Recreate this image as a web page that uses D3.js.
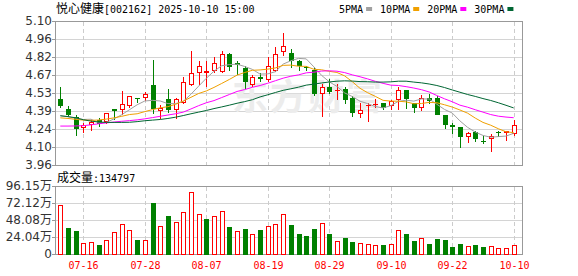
<!DOCTYPE html>
<html lang="zh">
<head>
<meta charset="UTF-8">
<title>悦心健康 日K</title>
<script src="https://cdn.jsdelivr.net/npm/d3@7"></script>
<style>
  body { margin: 0; background: #fff; }
  svg { display: block; }
  .mono { font-family: "DejaVu Sans Mono", monospace; font-size: 10px; }
  .cjk { font-family: "Noto Sans CJK SC", sans-serif; font-size: 12px; }
  .axis text { font-family: "DejaVu Sans", "Noto Sans CJK SC", sans-serif; font-size: 12px; fill: #333; }
  .axis line { stroke: #999; }
  .axis path { display: none; }
</style>
</head>
<body>
<svg id="chart" width="578" height="276"></svg>
<script>
// trading days shown
const dates = ["07-11","07-14","07-15","07-16","07-17","07-18","07-21","07-22","07-23","07-24",
  "07-25","07-28","07-29","07-30","07-31","08-01","08-04","08-05","08-06","08-07",
  "08-08","08-11","08-12","08-13","08-14","08-15","08-18","08-19","08-20","08-21",
  "08-22","08-25","08-26","08-27","08-28","08-29","09-01","09-02","09-03","09-04",
  "09-05","09-08","09-09","09-10","09-11","09-12","09-15","09-16","09-17","09-18",
  "09-19","09-22","09-23","09-24","09-25","09-26","09-29","09-30","10-09","10-10"];

const open = [4.49,4.41,4.35,4.26,4.28,4.32,4.31,4.41,4.40,4.43, 4.50,4.50,4.60,4.39,4.49,4.40,4.46,4.60,4.69,4.69,
  4.71,4.70,4.84,4.77,4.73,4.60,4.66,4.64,4.71,4.86, 4.85,4.79,4.74,4.72,4.53,4.58,4.55,4.57,4.50,4.37,
  4.43,4.44,4.46,4.43,4.48,4.56,4.46,4.42,4.50,4.50, 4.36,4.28,4.27,4.19,4.23,4.16,4.17,4.23,4.22,4.21];
const high = [4.58,4.43,4.36,4.30,4.32,4.34,4.38,4.41,4.55,4.51, 4.50,4.54,4.80,4.44,4.57,4.50,4.66,4.87,4.79,4.79,
  4.82,4.87,4.85,4.79,4.75,4.68,4.69,4.82,4.90,5.01, 4.88,4.80,4.75,4.74,4.61,4.65,4.61,4.58,4.51,4.46,
  4.46,4.49,4.46,4.48,4.58,4.56,4.46,4.52,4.53,4.51, 4.36,4.30,4.27,4.23,4.24,4.20,4.21,4.24,4.24,4.32];
const low = [4.42,4.35,4.20,4.22,4.24,4.27,4.29,4.32,4.36,4.42, 4.46,4.47,4.37,4.33,4.38,4.33,4.45,4.59,4.60,4.58,
  4.69,4.69,4.71,4.68,4.57,4.58,4.62,4.62,4.70,4.83, 4.73,4.71,4.71,4.51,4.35,4.53,4.48,4.45,4.35,4.34,
  4.31,4.42,4.40,4.40,4.40,4.41,4.38,4.39,4.45,4.36, 4.25,4.21,4.10,4.14,4.15,4.13,4.07,4.19,4.16,4.20];
const close = [4.43,4.36,4.25,4.28,4.31,4.29,4.38,4.39,4.45,4.51, 4.49,4.53,4.41,4.42,4.40,4.49,4.62,4.69,4.75,4.71,
  4.77,4.84,4.74,4.76,4.62,4.66,4.65,4.75,4.84,4.91, 4.79,4.75,4.73,4.53,4.58,4.54,4.56,4.48,4.38,4.40,
  4.44,4.45,4.42,4.47,4.56,4.49,4.42,4.50,4.47,4.36, 4.28,4.27,4.19,4.22,4.17,4.15,4.20,4.22,4.24,4.28];
const prevClose = 4.40; // close before 07-11

// volume, 万手
const volume = [71.3,38.5,33.8,16.9,18.3,14.1,20.6,31.9,43.2,34.7, 21.1,20.6,73.2,40.4,54.9,46.0,60.1,89.6,57.3,50.7,
  54.9,61.9,39.9,33.8,36.6,29.6,35.2,40.8,43.6,57.3, 42.2,29.6,26.8,36.6,44.6,29.6,19.7,24.4,18.3,16.4,
  15.0,14.1,14.1,15.5,35.2,29.6,19.7,23.9,15.5,22.5, 21.1,11.3,15.5,12.7,14.1,11.3,12.7,9.9,9.9,13.4797];

const ma5 = [4.358,4.348,4.337,4.327,4.329,4.301,4.304,4.332,4.365,4.404, 4.443,4.473,4.478,4.473,4.452,4.452,4.470,4.526,4.590,4.652,
  4.708,4.751,4.760,4.763,4.745,4.722,4.685,4.687,4.704,4.764, 4.790,4.809,4.805,4.742,4.675,4.624,4.588,4.537,4.508,4.471,
  4.452,4.429,4.418,4.436,4.470,4.479,4.472,4.489,4.489,4.447, 4.406,4.378,4.316,4.265,4.228,4.201,4.187,4.192,4.196,4.218];
const ma10 = [4.340,4.335,4.328,4.322,4.320,4.323,4.330,4.340,4.352,4.366, 4.372,4.389,4.405,4.419,4.428,4.447,4.472,4.502,4.532,4.552,
  4.580,4.611,4.643,4.677,4.698,4.715,4.718,4.724,4.734,4.754, 4.756,4.747,4.746,4.723,4.719,4.707,4.698,4.671,4.625,4.573,
  4.538,4.509,4.478,4.472,4.471,4.466,4.451,4.453,4.462,4.459, 4.443,4.425,4.402,4.377,4.338,4.304,4.282,4.254,4.230,4.223];
const ma20 = [4.275,4.275,4.276,4.278,4.285,4.293,4.300,4.307,4.313,4.318, 4.324,4.332,4.342,4.352,4.362,4.372,4.385,4.410,4.436,4.459,
  4.476,4.500,4.524,4.548,4.563,4.581,4.595,4.613,4.633,4.653, 4.668,4.679,4.695,4.700,4.709,4.711,4.708,4.697,4.679,4.664,
  4.647,4.628,4.612,4.598,4.595,4.586,4.575,4.562,4.544,4.516, 4.490,4.467,4.440,4.424,4.404,4.385,4.366,4.353,4.346,4.341];
const ma30 = [4.356,4.350,4.340,4.325,4.314,4.307,4.304,4.304,4.304,4.305, 4.310,4.317,4.322,4.327,4.335,4.345,4.358,4.372,4.385,4.398,
  4.413,4.426,4.440,4.455,4.468,4.483,4.505,4.522,4.540,4.557, 4.569,4.582,4.598,4.606,4.615,4.623,4.629,4.632,4.630,4.626,
  4.625,4.622,4.622,4.624,4.629,4.629,4.622,4.616,4.607,4.595, 4.579,4.560,4.542,4.524,4.509,4.492,4.477,4.459,4.439,4.418];

const priceTickLabels = ["3.96","4.10","4.24","4.39","4.53","4.67","4.82","4.96","5.10"];
const volTickLabels = ["0","24.04万","48.08万","72.12万","96.15万"];
const xTickLabels = ["07-16","07-28","08-07","08-19","08-29","09-10","09-22","10-10"];

const maNames = ["5PMA","10PMA","20PMA","30PMA"];
const maColors = ["#a0a0a0","#f0a000","#ff00ff","#006633"];

const RED = "#ff0000", GREEN = "#008000";
const left = 55, right = 522;

const svg = d3.select("#chart");
svg.append("rect").attr("width", 578).attr("height", 276).attr("fill", "#fff");

const x = d3.scalePoint().domain(dates).range([60.3, 513.7]);
const priceY = d3.scaleLinear().domain([3.96, 5.10]).range([166, 21.5]);
const volY = d3.scaleLinear().domain([0, 96.15]).range([255, 187]);

const priceTicks = priceTickLabels.map((_, k) => 3.96 + k * (5.10 - 3.96) / 8);
const volTicks = volTickLabels.map((_, k) => k * 96.15 / 4);
const px = d => Math.round(x(d));

// grids
function hGrid(scale, ticks) {
  svg.append("g").selectAll("line").data(ticks).join("line")
    .attr("x1", left).attr("x2", right)
    .attr("y1", d => Math.round(scale(d)) - 0.5)
    .attr("y2", d => Math.round(scale(d)) - 0.5)
    .attr("stroke", "#d4d4d4");
}
hGrid(priceY, priceTicks);
hGrid(volY, volTicks);

function vGrid(y1, y2) {
  svg.append("g").selectAll("line").data(xTickLabels).join("line")
    .attr("x1", d => px(d) + 0.5).attr("x2", d => px(d) + 0.5)
    .attr("y1", y1).attr("y2", y2)
    .attr("stroke", "#cccccc").attr("stroke-dasharray", "4,3");
}
vGrid(22, 165);
vGrid(187, 254);

// watermark
svg.append("text")
  .attr("x", 232).attr("y", 110)
  .attr("font-family", "Noto Sans CJK SC").attr("font-size", 36).attr("font-weight", 700)
  .attr("letter-spacing", 2)
  .attr("fill", "#ececec")
  .text("东方财富");

// panel borders
svg.append("rect").attr("x", left + 0.5).attr("y", 21.5).attr("width", right - left).attr("height", 144)
  .attr("fill", "none").attr("stroke", "#999");
svg.append("rect").attr("x", left + 0.5).attr("y", 186.5).attr("width", right - left).attr("height", 68)
  .attr("fill", "none").attr("stroke", "#999");

// axes
svg.append("g").attr("class", "axis").attr("transform", `translate(${left},0)`)
  .call(d3.axisLeft(priceY).tickValues(priceTicks).tickFormat((d, i) => priceTickLabels[i]).tickSize(3).tickPadding(0))
  .call(g => g.selectAll(".tick").attr("transform", d => `translate(0,${Math.round(priceY(d)) - 0.5})`));
svg.append("g").attr("class", "axis").attr("transform", `translate(${left},0)`)
  .call(d3.axisLeft(volY).tickValues(volTicks).tickFormat((d, i) => volTickLabels[i]).tickSize(3).tickPadding(0))
  .call(g => g.selectAll(".tick").attr("transform", d => `translate(0,${Math.round(volY(d)) - 0.5})`));

// x labels
svg.append("g").selectAll("text").data(xTickLabels).join("text")
  .attr("class", "mono")
  .attr("x", d => px(d) + 0.5).attr("y", 269)
  .attr("text-anchor", "middle").attr("fill", RED)
  .text(d => d);

// candles
const candles = svg.append("g");
dates.forEach((d, i) => {
  const cx = px(d);
  const up = close[i] > open[i];
  const col = up ? RED : GREEN;
  const top = Math.round(priceY(Math.max(open[i], close[i])));
  const bot = Math.round(priceY(Math.min(open[i], close[i])));
  const hi = Math.round(priceY(high[i]));
  const lo = Math.round(priceY(low[i]));
  if (up) {
    if (hi < top) candles.append("line").attr("x1", cx + 0.5).attr("x2", cx + 0.5).attr("y1", hi).attr("y2", top).attr("stroke", col);
    if (lo > bot) candles.append("line").attr("x1", cx + 0.5).attr("x2", cx + 0.5).attr("y1", bot).attr("y2", lo).attr("stroke", col);
    if (bot - top <= 1) {
      candles.append("line").attr("x1", cx - 2).attr("x2", cx + 3).attr("y1", top + 0.5).attr("y2", top + 0.5).attr("stroke", col);
    } else {
      candles.append("rect").attr("x", cx - 1.5).attr("y", top + 0.5).attr("width", 4).attr("height", bot - top - 1)
        .attr("fill", "#fff").attr("stroke", col);
    }
  } else {
    candles.append("line").attr("x1", cx + 0.5).attr("x2", cx + 0.5).attr("y1", hi).attr("y2", lo).attr("stroke", col);
    candles.append("rect").attr("x", cx - 2).attr("y", top).attr("width", 5).attr("height", Math.max(bot - top, 1))
      .attr("fill", col);
  }
});

// moving averages
[ma5, ma10, ma20, ma30].forEach((series, k) => {
  svg.append("path")
    .datum(series)
    .attr("fill", "none")
    .attr("stroke", maColors[k])
    .attr("stroke-width", 1)
    .attr("d", d3.line().x((v, i) => x(dates[i])).y(v => priceY(v)));
});

// volume bars
const bars = svg.append("g");
dates.forEach((d, i) => {
  const cx = px(d);
  const prev = i === 0 ? prevClose : close[i - 1];
  const up = close[i] >= prev;
  const top = Math.round(volY(volume[i]));
  if (up) {
    bars.append("rect").attr("x", cx - 1.5).attr("y", top + 0.5).attr("width", 4).attr("height", 255 - top - 1)
      .attr("fill", "#fff").attr("stroke", RED);
  } else {
    bars.append("rect").attr("x", cx - 2).attr("y", top).attr("width", 5).attr("height", 255 - top)
      .attr("fill", GREEN);
  }
});

// title
const title = svg.append("text").attr("x", 56).attr("y", 13).attr("fill", "#000");
title.append("tspan").attr("class", "cjk").text("悦心健康");
title.append("tspan").attr("class", "mono").text("[002162] 2025-10-10 15:00");

// volume caption
const vcap = svg.append("text").attr("x", 57).attr("y", 182).attr("fill", "#000");
vcap.append("tspan").attr("class", "cjk").text("成交量");
vcap.append("tspan").attr("class", "mono").text(":" + Math.round(volume[volume.length - 1] * 10000));

// legend
let lx = 339;
maNames.forEach((name, k) => {
  const t = svg.append("text").attr("class", "mono").attr("x", lx).attr("y", 13).attr("fill", "#000").text(name);
  lx += t.node().getComputedTextLength() + 3;
  svg.append("rect").attr("x", lx).attr("y", 7).attr("width", 6).attr("height", 4).attr("fill", maColors[k]);
  lx += 14;
});
</script>
</body>
</html>
